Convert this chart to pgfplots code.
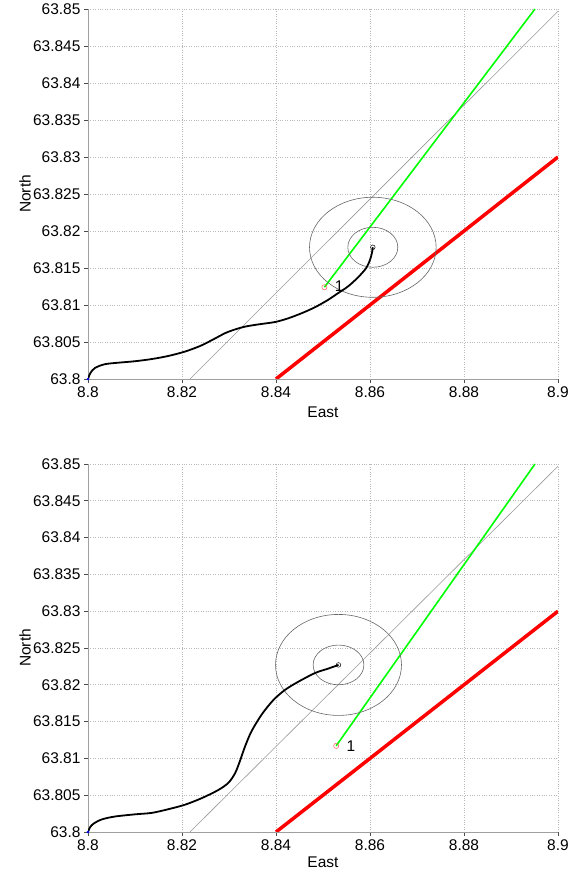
\documentclass[border=0pt]{standalone}
\usepackage{pgfplots}
\pgfplotsset{compat=1.18}
\usepackage{fontspec}
\setmainfont{Liberation Sans}

\pgfplotstableread{
x y
8.8000 63.8000
8.8005 63.8008
8.8015 63.8015
8.8036 63.8020
8.8064 63.8022
8.8100 63.8024
8.8136 63.8027
8.8170 63.8031
8.8206 63.8037
8.8240 63.8045
8.8268 63.8054
8.8292 63.8062
8.8313 63.8067
8.8336 63.8071
8.8365 63.8074
8.8398 63.8077
8.8426 63.8082
8.8455 63.8089
8.8483 63.8097
8.8511 63.8107
8.8532 63.8116
8.8553 63.8125
8.8574 63.8137
8.8592 63.8150
8.8600 63.8161
8.8604 63.8170
8.8606 63.8178
}\tracktop

\pgfplotstableread{
x y
8.8000 63.8000
8.8004 63.8006
8.8011 63.8011
8.8029 63.8017
8.8057 63.8021
8.8100 63.8024
8.8136 63.8026
8.8171 63.8031
8.8206 63.8037
8.8242 63.8046
8.8277 63.8057
8.8299 63.8067
8.8313 63.8080
8.8323 63.8096
8.8334 63.8116
8.8348 63.8137
8.8370 63.8160
8.8394 63.8179
8.8419 63.8193
8.8447 63.8204
8.8483 63.8216
8.8511 63.8222
8.8533 63.8227
}\trackbot

\pgfplotsset{
  myaxis/.style={
    scale only axis,
    width=470pt,
    anchor=south west,
    xmin=8.8, xmax=8.9, ymin=63.8, ymax=63.85,
    axis lines*=left,
    axis line style={gray!75, line width=0.9pt},
    tick align=outside,
    major tick length=4pt,
    every tick/.style={gray!60!black, line width=0.6pt},
    xtick={8.8,8.82,8.84,8.86,8.88,8.9},
    xticklabels={8.8,8.82,8.84,8.86,8.88,8.9},
    ytick={63.8,63.805,63.81,63.815,63.82,63.825,63.83,63.835,63.84,63.845,63.85},
    yticklabels={63.8,63.805,63.81,63.815,63.82,63.825,63.83,63.835,63.84,63.845,63.85},
    tick label style={font=\fontsize{15.5}{18}\selectfont},
    xmajorgrids, ymajorgrids,
    grid style={dotted, gray!55, line width=0.6pt},
    xlabel={East}, ylabel={North},
    every axis y label/.style={at={(axis description cs:-0.134,0.5)}, rotate=90, anchor=center, font=\fontsize{15.5}{18}\selectfont},
  },
}

\begin{document}
\begin{tikzpicture}[x=1pt,y=1pt]
\path[use as bounding box] (0,0) rectangle (584,873);

% ---------- top ----------
\begin{axis}[myaxis, at={(88pt,494pt)}, height=370pt,
  every axis x label/.style={at={(axis description cs:0.5,-0.089)}, anchor=center, font=\fontsize{15.5}{18}\selectfont}]
\addplot[gray!80, line width=0.6pt] coordinates {(8.8217,63.8) (8.9,63.8497)};
\addplot[red, line width=3.5pt] coordinates {(8.84,63.8) (8.9,63.83)};
\addplot[green, line width=1.6pt] coordinates {(8.8503,63.8124) (8.8951,63.85)};
\draw[gray!80!black, line width=0.6pt] (axis cs:8.8606,63.8178) ellipse [x radius=0.01347, y radius=0.00676];
\draw[gray!80!black, line width=0.6pt] (axis cs:8.8606,63.8178) ellipse [x radius=0.00532, y radius=0.0027];
\addplot[black, line width=1.8pt, smooth, tension=0.5] table {\tracktop};
\addplot[only marks, mark=o, mark size=2.3pt, black, mark options={line width=0.5pt}] coordinates {(8.8606,63.8178)};
\addplot[only marks, mark=o, mark size=2.6pt, red!65, mark options={line width=0.5pt}] coordinates {(8.8503,63.8124)};
\addplot[only marks, mark=*, mark size=1.2pt, blue] coordinates {(8.8,63.8)};
\node[anchor=west, xshift=7pt, yshift=1pt, font=\fontsize{15.5}{18}\selectfont] at (axis cs:8.8503,63.8124) {1};
\end{axis}

% ---------- bottom ----------
\begin{axis}[myaxis, at={(88pt,41pt)}, height=368pt,
  every axis x label/.style={at={(axis description cs:0.5,-0.083)}, anchor=center, font=\fontsize{15.5}{18}\selectfont}]
\addplot[gray!80, line width=0.6pt] coordinates {(8.8217,63.8) (8.9,63.8497)};
\addplot[red, line width=3.5pt] coordinates {(8.84,63.8) (8.9,63.83)};
\addplot[green, line width=1.6pt] coordinates {(8.8528,63.8117) (8.8951,63.85)};
\draw[gray!80!black, line width=0.6pt] (axis cs:8.8533,63.8227) ellipse [x radius=0.01340, y radius=0.00686];
\draw[gray!80!black, line width=0.6pt] (axis cs:8.8533,63.8227) ellipse [x radius=0.00540, y radius=0.0027];
\addplot[black, line width=1.8pt, smooth, tension=0.5] table {\trackbot};
\addplot[only marks, mark=o, mark size=2.3pt, black, mark options={line width=0.5pt}] coordinates {(8.8533,63.8227)};
\addplot[only marks, mark=o, mark size=2.6pt, red!65, mark options={line width=0.5pt}] coordinates {(8.8528,63.8117)};
\addplot[only marks, mark=*, mark size=1.2pt, blue] coordinates {(8.8,63.8)};
\node[anchor=west, xshift=7pt, font=\fontsize{15.5}{18}\selectfont] at (axis cs:8.8528,63.8117) {1};
\end{axis}
\end{tikzpicture}
\end{document}
